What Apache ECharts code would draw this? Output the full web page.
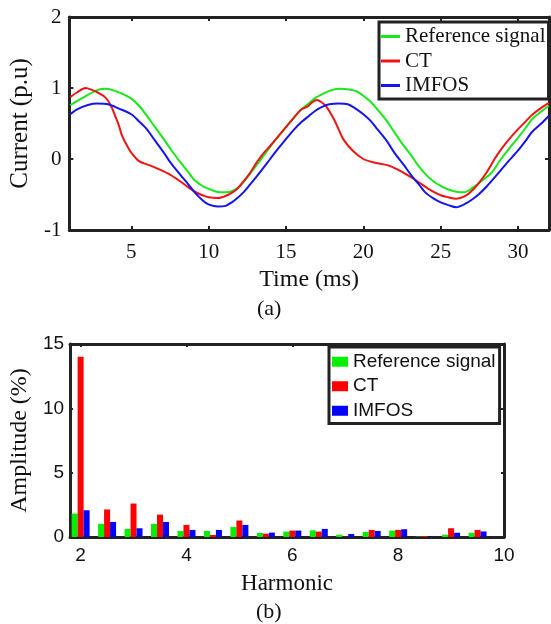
<!DOCTYPE html>
<html>
<head>
<meta charset="utf-8">
<script src="https://cdn.jsdelivr.net/npm/echarts@6/dist/echarts.min.js"></script>
<style>
html,body{margin:0;padding:0;background:#fff;}
#chart{width:551px;height:624px;}
</style>
</head>
<body>
<div id="chart"></div>
<script>
// ---- Panel (a): time-domain currents ----
const seriesNames = ['Reference signal', 'CT', 'IMFOS'];
const timeTicks = [5, 10, 15, 20, 25, 30];
const currentTicks = [-1, 0, 1, 2];

const refTime = [1.05,2.0,2.8,3.3,3.8,4.4,5,5.5,6,6.5,7.1,7.6,8.2,8.7,9.1,9.6,10,10.5,10.9,11.4,11.8,12.2,12.6,13.2,13.8,14.4,15,15.5,16,16.5,16.9,17.4,17.8,18.4,19.1,19.6,20,20.5,20.9,21.5,22,22.5,23.1,23.5,24,24.5,25,25.5,26,26.5,27.1,27.7,28.3,28.9,29.4,30,30.5,30.9,31.5,32];
const refCurrent = [0.76,0.88,0.97,0.99,0.97,0.92,0.85,0.75,0.61,0.46,0.28,0.12,-0.05,-0.19,-0.30,-0.38,-0.42,-0.46,-0.47,-0.46,-0.42,-0.34,-0.23,-0.06,0.12,0.29,0.45,0.58,0.70,0.79,0.86,0.92,0.96,0.99,0.98,0.95,0.89,0.80,0.70,0.54,0.38,0.22,0.05,-0.08,-0.21,-0.31,-0.38,-0.43,-0.46,-0.47,-0.40,-0.30,-0.19,0.00,0.14,0.30,0.44,0.56,0.67,0.75];

const ctTime = [1.05,1.5,2.05,2.5,2.8,3.2,3.5,3.75,3.95,4.2,4.4,4.7,5,5.5,6.2,6.85,7.5,8.2,8.7,9.1,9.6,10,10.6,11.3,11.8,12.2,12.7,13.1,13.5,14,14.5,15,15.5,16,16.4,16.7,17,17.3,17.6,18.1,18.4,18.7,19.3,20,20.7,21.6,22.5,23.4,23.8,24.2,25,25.5,26,26.6,27.1,27.5,28,28.6,29.2,30,30.5,30.9,31.5,32];
const ctCurrent = [0.87,0.94,1.00,0.97,0.94,0.89,0.82,0.72,0.61,0.47,0.33,0.20,0.09,-0.03,-0.09,-0.15,-0.22,-0.32,-0.40,-0.46,-0.51,-0.54,-0.55,-0.50,-0.43,-0.33,-0.19,-0.05,0.07,0.19,0.32,0.45,0.58,0.70,0.74,0.80,0.83,0.80,0.74,0.56,0.42,0.28,0.12,0.00,-0.05,-0.09,-0.18,-0.30,-0.36,-0.42,-0.51,-0.54,-0.56,-0.52,-0.43,-0.33,-0.18,0.04,0.22,0.42,0.53,0.62,0.72,0.79];

const imfosTime = [1.05,1.5,2.2,2.8,3.5,4.2,5,5.5,6,6.5,7.1,7.6,8.2,8.7,9.1,9.6,10,10.6,11.1,11.5,11.8,12.2,12.6,13.2,13.8,14.4,15,15.5,16,16.5,16.9,17.4,17.8,18.4,19,19.5,20,20.5,20.9,21.5,22,22.6,23.1,23.6,24,24.5,25,25.5,26,26.6,27.1,27.5,28,28.6,29.3,30,30.5,30.9,31.5,32];
const imfosCurrent = [0.63,0.70,0.76,0.78,0.77,0.71,0.63,0.53,0.42,0.27,0.09,-0.07,-0.23,-0.36,-0.47,-0.58,-0.64,-0.67,-0.66,-0.61,-0.56,-0.48,-0.38,-0.22,-0.05,0.12,0.28,0.41,0.52,0.61,0.68,0.74,0.77,0.78,0.77,0.71,0.63,0.53,0.42,0.26,0.09,-0.08,-0.23,-0.36,-0.47,-0.55,-0.61,-0.65,-0.68,-0.63,-0.56,-0.49,-0.38,-0.23,-0.05,0.12,0.26,0.38,0.50,0.61];

// ---- Panel (b): harmonic amplitudes ----
const harmonicTicks = [2, 4, 6, 8, 10];
const amplitudeTicks = [0, 5, 10, 15];
const harmonicOrder = [2,2.5,3,3.5,4,4.5,5,5.5,6,6.5,7,7.5,8,8.5,9,9.5];
const refAmplitude   = [1.82,1.02,0.63,1.02,0.47,0.47,0.78,0.31,0.42,0.52,0.18,0.39,0.50,0.03,0.18,0.33];
const ctAmplitude    = [14.0,2.14,2.60,1.74,0.94,0.16,1.28,0.26,0.50,0.42,0.02,0.55,0.55,0.08,0.68,0.55];
const imfosAmplitude = [2.08,1.17,0.68,1.17,0.55,0.55,0.94,0.34,0.50,0.63,0.23,0.47,0.60,0.03,0.33,0.43];

const lineColors = ['#18e818', '#ee1414', '#1414ee'];
const barColors = ['#00f000', '#ff0000', '#0000ff'];
const ink = '#222';
const serif = '"Liberation Serif", "Times New Roman", serif';
const sans = '"Liberation Sans", Arial, sans-serif';

const zip = (xs, ys) => xs.map((x, i) => [x, ys[i]]);

function frameAxis(base, extra) {
  return Object.assign({
    axisLine: { show: true, onZero: false, lineStyle: { color: ink, width: 3 } },
    splitLine: { show: false },
  }, base, extra);
}

const chart = echarts.init(document.getElementById('chart'), null, { renderer: 'canvas' });

const option = {
  backgroundColor: '#fff',
  animation: false,
  grid: [
    { left: 63, right: 2, top: 17, bottom: 394, containLabel: false },
    { left: 56, right: 47, top: 344, bottom: 87, containLabel: false }
  ],
  xAxis: [
    frameAxis({ gridIndex: 0, type: 'value', min: 1, max: 32, position: 'bottom',
      name: 'Time (ms)', nameLocation: 'middle', nameGap: 38,
      nameTextStyle: { fontFamily: serif, fontSize: 24, color: '#111' },
      axisTick: { show: true, inside: true, length: 4, customValues: timeTicks, lineStyle: { color: ink, width: 2 } },
      axisLabel: { show: true, customValues: timeTicks, margin: 12, fontFamily: serif, fontSize: 21, color: '#111' } }),
    frameAxis({ gridIndex: 0, type: 'value', min: 1, max: 32, position: 'top',
      axisTick: { show: true, inside: true, length: 4, customValues: timeTicks, lineStyle: { color: ink, width: 2 } },
      axisLabel: { show: false } }),
    frameAxis({ gridIndex: 1, type: 'value', min: 1.8, max: 10, position: 'bottom',
      name: 'Harmonic', nameLocation: 'middle', nameGap: 35,
      nameTextStyle: { fontFamily: serif, fontSize: 23, color: '#111' },
      axisTick: { show: true, inside: true, length: 3, customValues: harmonicTicks, lineStyle: { color: ink, width: 2 } },
      axisLabel: { show: true, customValues: harmonicTicks, margin: 9, fontFamily: sans, fontSize: 19, color: '#111' } }),
    frameAxis({ gridIndex: 1, type: 'value', min: 1.8, max: 10, position: 'top',
      axisTick: { show: true, inside: true, length: 3, customValues: harmonicTicks, lineStyle: { color: ink, width: 2 } },
      axisLabel: { show: false } })
  ],
  yAxis: [
    frameAxis({ gridIndex: 0, type: 'value', min: -1, max: 2, interval: 1, position: 'left',
      name: 'Current (p.u)', nameLocation: 'middle', nameGap: 30,
      nameTextStyle: { fontFamily: serif, fontSize: 25, color: '#111' },
      axisTick: { show: true, inside: true, length: 4, customValues: currentTicks, lineStyle: { color: ink, width: 2 } },
      axisLabel: { show: true, customValues: currentTicks, margin: 8, fontFamily: serif, fontSize: 21, color: '#111' } }),
    frameAxis({ gridIndex: 0, type: 'value', min: -1, max: 2, interval: 1, position: 'right',
      axisTick: { show: true, inside: true, length: 4, customValues: currentTicks, lineStyle: { color: ink, width: 2 } },
      axisLabel: { show: false } }),
    frameAxis({ gridIndex: 1, type: 'value', min: 0, max: 15, interval: 5, position: 'left',
      name: 'Amplitude (%)', nameLocation: 'middle', nameGap: 29,
      nameTextStyle: { fontFamily: serif, fontSize: 24, color: '#111' },
      axisTick: { show: true, inside: true, length: 3, customValues: amplitudeTicks, lineStyle: { color: ink, width: 2 } },
      axisLabel: { show: true, customValues: amplitudeTicks, margin: 6, fontFamily: sans, fontSize: 19, color: '#111' } }),
    frameAxis({ gridIndex: 1, type: 'value', min: 0, max: 15, interval: 5, position: 'right',
      axisTick: { show: true, inside: true, length: 3, customValues: amplitudeTicks, lineStyle: { color: ink, width: 2 } },
      axisLabel: { show: false } })
  ],
  legend: [
    {
      orient: 'vertical', left: 379, top: 22,
      padding: [4, 3, 3, 2], itemGap: 3.5, itemWidth: 19, itemHeight: 3, icon: 'rect',
      borderColor: ink, borderWidth: 3, backgroundColor: '#fff',
      selectedMode: false,
      textStyle: { fontFamily: serif, fontSize: 21, lineHeight: 21, color: '#111' },
      data: seriesNames.map((n, i) => ({ name: n, itemStyle: { color: lineColors[i] } }))
    },
    {
      orient: 'vertical', left: 329, top: 347,
      padding: [5, 4, 3, 3], itemGap: 5, itemWidth: 16, itemHeight: 10, icon: 'rect',
      borderColor: ink, borderWidth: 3, backgroundColor: '#fff',
      selectedMode: false,
      textStyle: { fontFamily: sans, fontSize: 19, lineHeight: 19.5, color: '#111' },
      data: seriesNames.map((n, i) => ({ name: n, itemStyle: { color: barColors[i] } }))
    }
  ],
  graphic: [
    { type: 'text', left: 257, top: 298, style: { text: '(a)', font: '22px ' + serif, fill: '#111' } },
    { type: 'text', left: 256, top: 601, style: { text: '(b)', font: '22px ' + serif, fill: '#111' } }
  ],
  series: [
    { name: seriesNames[0], type: 'line', xAxisIndex: 0, yAxisIndex: 0, data: zip(refTime, refCurrent),
      showSymbol: false, smooth: 0.3, lineStyle: { color: lineColors[0], width: 2 }, itemStyle: { color: lineColors[0] } },
    { name: seriesNames[1], type: 'line', xAxisIndex: 0, yAxisIndex: 0, data: zip(ctTime, ctCurrent),
      showSymbol: false, smooth: 0.3, lineStyle: { color: lineColors[1], width: 2 }, itemStyle: { color: lineColors[1] } },
    { name: seriesNames[2], type: 'line', xAxisIndex: 0, yAxisIndex: 0, data: zip(imfosTime, imfosCurrent),
      showSymbol: false, smooth: 0.3, lineStyle: { color: lineColors[2], width: 2 }, itemStyle: { color: lineColors[2] } },
    { name: seriesNames[0], type: 'bar', xAxisIndex: 2, yAxisIndex: 2, data: zip(harmonicOrder, refAmplitude),
      barWidth: 6, barGap: '0%', itemStyle: { color: barColors[0] } },
    { name: seriesNames[1], type: 'bar', xAxisIndex: 2, yAxisIndex: 2, data: zip(harmonicOrder, ctAmplitude),
      barWidth: 6, barGap: '0%', itemStyle: { color: barColors[1] } },
    { name: seriesNames[2], type: 'bar', xAxisIndex: 2, yAxisIndex: 2, data: zip(harmonicOrder, imfosAmplitude),
      barWidth: 6, barGap: '0%', itemStyle: { color: barColors[2] } }
  ]
};
chart.setOption(option);
</script>
</body>
</html>
